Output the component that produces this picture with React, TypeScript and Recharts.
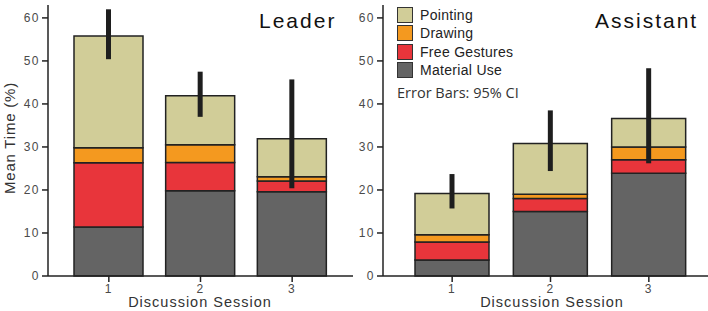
import { BarChart, Bar, XAxis, YAxis, ErrorBar, Label } from "recharts";

const FONT = '"Liberation Sans", Arial, sans-serif';

const SESSIONS = ["1", "2", "3"];
// stacking order, bottom to top
const SERIES_KEYS = ["material", "free", "drawing", "pointing"];
const SERIES_NAMES = ["Material Use", "Free Gestures", "Drawing", "Pointing"];
const SERIES_COLORS = ["#646464", "#e8353b", "#f4991f", "#d1cd98"];
const Y_TICKS = [0, 10, 20, 30, 40, 50, 60];

// Leader, mean time (%) per gesture type
const leaderMaterial = [11.4, 19.8, 19.6];
const leaderFree = [14.9, 6.6, 2.5];
const leaderDrawing = [3.5, 4.1, 1.0];
const leaderPointing = [26.0, 11.4, 8.8];
const leaderCiLow = [50.4, 37.0, 20.4];
const leaderCiHigh = [62.0, 47.5, 45.7];

// Assistant
const assistantMaterial = [3.7, 15.0, 23.9];
const assistantFree = [4.2, 3.0, 3.1];
const assistantDrawing = [1.7, 1.0, 3.0];
const assistantPointing = [9.6, 11.8, 6.6];
const assistantCiLow = [15.7, 24.4, 26.2];
const assistantCiHigh = [23.7, 38.5, 48.3];

function buildRows(
  material: number[],
  free: number[],
  drawing: number[],
  pointing: number[],
  ciLow: number[],
  ciHigh: number[]
) {
  return SESSIONS.map((session, i) => {
    const total = material[i] + free[i] + drawing[i] + pointing[i];
    return {
      session,
      material: material[i],
      free: free[i],
      drawing: drawing[i],
      pointing: pointing[i],
      // ErrorBar takes [below, above] offsets from the top of the stack
      ci: [total - ciLow[i], ciHigh[i] - total],
    };
  });
}

const leaderRows = buildRows(leaderMaterial, leaderFree, leaderDrawing, leaderPointing, leaderCiLow, leaderCiHigh);
const assistantRows = buildRows(
  assistantMaterial,
  assistantFree,
  assistantDrawing,
  assistantPointing,
  assistantCiLow,
  assistantCiHigh
);

const AXIS_LINE = { stroke: "#222", strokeWidth: 1.5 };
const TICK_STYLE = { fill: "#4a4a4a", fontSize: 12, fontFamily: FONT, letterSpacing: 1.5 };

type PanelProps = {
  rows: ReturnType<typeof buildRows>;
  left: number;
  width: number;
  yAxisWidth: number;
  marginRight: number;
  padLeft: number;
  padRight: number;
  barSize: number;
  title: string;
  titleLeft: number;
  xLabelX: number;
  yLabel?: boolean;
  children?: React.ReactNode;
};

function Panel(p: PanelProps) {
  return (
    <div style={{ position: "absolute", left: p.left, top: 0, width: p.width, height: 311 }}>
      <BarChart
        width={p.width}
        height={311}
        data={p.rows}
        margin={{ top: 5, right: p.marginRight, left: 0, bottom: 5 }}
        barSize={p.barSize}
      >
        <XAxis
          dataKey="session"
          height={30}
          padding={{ left: p.padLeft, right: p.padRight }}
          tickSize={6}
          tickMargin={2}
          axisLine={AXIS_LINE}
          tickLine={AXIS_LINE}
          tick={TICK_STYLE}
        >
          <Label
            content={() => (
              <text
                x={p.xLabelX}
                y={307}
                textAnchor="middle"
                fill="#333"
                fontSize={14.5}
                fontFamily={FONT}
                letterSpacing={1}
              >
                Discussion Session
              </text>
            )}
          />
        </XAxis>
        <YAxis
          width={p.yAxisWidth}
          domain={[0, 63]}
          ticks={Y_TICKS}
          tickSize={6}
          tickMargin={2}
          axisLine={AXIS_LINE}
          tickLine={AXIS_LINE}
          tick={TICK_STYLE}
        >
          {p.yLabel && (
            <Label
              content={() => (
                <text
                  x={9}
                  y={138}
                  transform="rotate(-90 9 138)"
                  textAnchor="middle"
                  dominantBaseline="central"
                  fill="#333"
                  fontSize={15}
                  fontFamily={FONT}
                  letterSpacing={0.8}
                >
                  Mean Time (%)
                </text>
              )}
            />
          )}
        </YAxis>
        {SERIES_KEYS.map((key, i) => (
          <Bar
            key={key}
            dataKey={key}
            name={SERIES_NAMES[i]}
            stackId="time"
            fill={SERIES_COLORS[i]}
            stroke="#222"
            strokeWidth={1.5}
            isAnimationActive={false}
          >
            {key === "pointing" && (
              <ErrorBar dataKey="ci" direction="y" width={0} stroke="#1e1e1e" strokeWidth={5} />
            )}
          </Bar>
        ))}
      </BarChart>
      <div
        style={{
          position: "absolute",
          left: p.titleLeft,
          top: 10,
          fontFamily: FONT,
          fontSize: 21,
          lineHeight: "21px",
          letterSpacing: 2,
          color: "#111",
          whiteSpace: "nowrap",
        }}
      >
        {p.title}
      </div>
      {p.children}
    </div>
  );
}

function GestureLegend() {
  const order = [...SERIES_KEYS.keys()].reverse();
  return (
    <div style={{ position: "absolute", left: 47, top: 6, fontFamily: FONT, color: "#222" }}>
      {order.map((i) => (
        <div key={i} style={{ display: "flex", alignItems: "center", height: 18.3 }}>
          <span
            style={{
              width: 14,
              height: 14,
              background: SERIES_COLORS[i],
              border: "1px solid #333",
              marginRight: 7,
            }}
          />
          <span style={{ fontSize: 14, letterSpacing: 0.3 }}>{SERIES_NAMES[i]}</span>
        </div>
      ))}
      <div
        style={{
          marginTop: 5,
          fontFamily: '"Open Sans", sans-serif',
          fontSize: 14.5,
          lineHeight: "18px",
          letterSpacing: 0,
          color: "#333",
          whiteSpace: "nowrap",
        }}
      >
        Error Bars: 95% CI
      </div>
    </div>
  );
}

export default function App() {
  return (
    <div style={{ position: "absolute", left: 0, top: 0, width: 708, height: 311, background: "#fff", overflow: "hidden" }}>
      <Panel
        rows={leaderRows}
        left={0}
        width={360}
        yAxisWidth={48}
        marginRight={7}
        padLeft={15}
        padRight={15}
        barSize={69}
        title="Leader"
        titleLeft={259}
        xLabelX={200}
        yLabel
      />
      <Panel
        rows={assistantRows}
        left={350}
        width={358}
        yAxisWidth={33}
        marginRight={0}
        padLeft={20}
        padRight={10}
        barSize={74}
        title="Assistant"
        titleLeft={245}
        xLabelX={202}
      >
        <GestureLegend />
      </Panel>
    </div>
  );
}
